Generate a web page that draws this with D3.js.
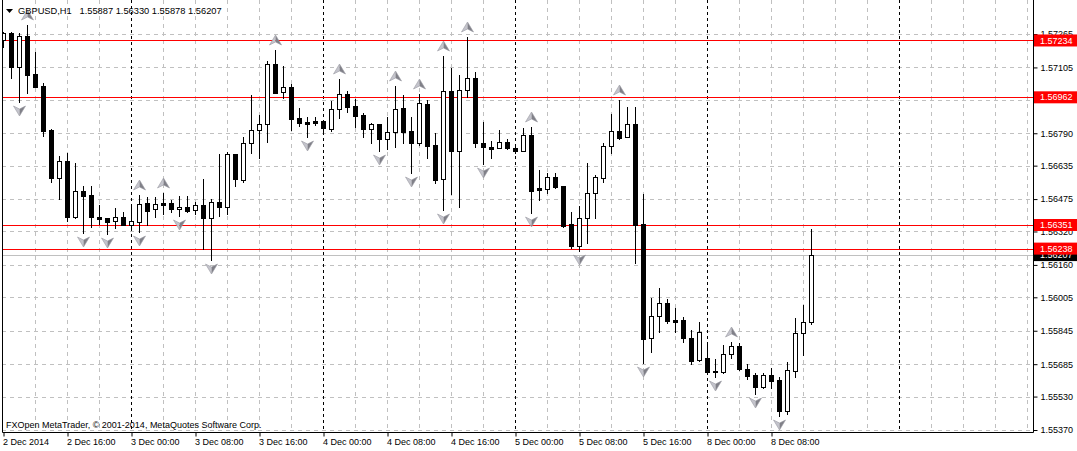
<!DOCTYPE html>
<html><head><meta charset="utf-8">
<script src="https://cdn.jsdelivr.net/npm/d3@7"></script>
<style>
body{margin:0;background:#fff;}
svg{display:block;}
text{font-family:"Liberation Sans",Arial,sans-serif;font-size:9px;fill:#000;}
</style>
</head><body><svg id="c" width="1077" height="451"></svg>
<script>
// ---------------- data ----------------
const symbol = "GBPUSD,H1";
const lastOHLC = [1.55887, 1.56330, 1.55878, 1.56207];
const opens = [1.57236,1.57270,1.57105,1.57255,1.57074,1.57016,1.56806,1.56577,1.56657,1.56388,
1.56514,1.56493,1.56388,1.56383,1.56368,1.56388,1.56353,1.56367,1.56455,1.56426,
1.56455,1.56455,1.56426,1.56437,1.56421,1.56447,1.56383,1.56460,1.56439,1.56691,
1.56566,1.56742,1.56804,1.56833,1.57121,1.56986,1.57010,1.56862,1.56844,1.56850,
1.56850,1.56812,1.56905,1.56976,1.56920,1.56877,1.56809,1.56833,1.56761,1.56795,
1.56910,1.56801,1.56745,1.56930,1.56734,1.56570,1.56992,1.56707,1.56996,1.57053,
1.56742,1.56726,1.56718,1.56747,1.56720,1.56704,1.56780,1.56526,1.56522,1.56579,
1.56538,1.56356,1.56252,1.56383,1.56503,1.56577,1.56729,1.56801,1.56771,1.56834,
1.56356,1.55809,1.55916,1.55976,1.55897,1.55897,1.55809,1.55705,1.55716,1.55652,
1.55649,1.55732,1.55772,1.55661,1.55633,1.55577,1.55633,1.55609,1.55462,1.55654,
1.55833,1.55887];
const highs = [1.57275,1.57275,1.57270,1.57308,1.57180,1.57032,1.56810,1.56681,1.56696,1.56649,
1.56539,1.56538,1.56447,1.56385,1.56432,1.56413,1.56442,1.56495,1.56484,1.56484,
1.56503,1.56471,1.56490,1.56490,1.56463,1.56571,1.56475,1.56689,1.56702,1.56691,
1.56771,1.56973,1.56877,1.57136,1.57188,1.57112,1.57024,1.56910,1.56866,1.56866,
1.56850,1.56944,1.57048,1.56992,1.56954,1.56886,1.56838,1.56833,1.56869,1.57016,
1.56973,1.56869,1.56978,1.56949,1.56790,1.57160,1.57101,1.57069,1.57249,1.57082,
1.56842,1.56754,1.56806,1.56763,1.56726,1.56814,1.56819,1.56614,1.56598,1.56598,
1.56538,1.56412,1.56442,1.56646,1.56590,1.56745,1.56882,1.56949,1.56917,1.56917,
1.56499,1.56000,1.56048,1.55997,1.55953,1.55909,1.55849,1.55888,1.55780,1.55708,
1.55777,1.55793,1.55788,1.55686,1.55644,1.55641,1.55665,1.55625,1.55697,1.55905,
1.55968,1.56330];
const lows = [1.57203,1.57054,1.56941,1.56984,1.57013,1.56778,1.56558,1.56474,1.56372,1.56383,
1.56314,1.56343,1.56356,1.56307,1.56338,1.56351,1.56338,1.56319,1.56351,1.56388,
1.56402,1.56415,1.56396,1.56412,1.56405,1.56236,1.56184,1.56396,1.56402,1.56539,
1.56558,1.56694,1.56673,1.56747,1.56981,1.56957,1.56806,1.56825,1.56774,1.56830,
1.56801,1.56802,1.56865,1.56893,1.56821,1.56774,1.56745,1.56707,1.56713,1.56726,
1.56745,1.56598,1.56734,1.56670,1.56553,1.56423,1.56499,1.56436,1.56965,1.56723,
1.56643,1.56670,1.56718,1.56715,1.56694,1.56704,1.56407,1.56471,1.56503,1.56527,
1.56343,1.56242,1.56227,1.56263,1.56386,1.56558,1.56697,1.56761,1.56771,1.56171,
1.55689,1.55745,1.55838,1.55884,1.55841,1.55793,1.55686,1.55702,1.55649,1.55622,
1.55644,1.55713,1.55657,1.55613,1.55542,1.55570,1.55573,1.55437,1.55447,1.55622,
1.55729,1.55878];
const closes = [1.57270,1.57105,1.57255,1.57069,1.57013,1.56802,1.56577,1.56657,1.56388,1.56514,
1.56491,1.56387,1.56381,1.56367,1.56388,1.56351,1.56369,1.56450,1.56419,1.56450,
1.56447,1.56426,1.56437,1.56419,1.56445,1.56383,1.56460,1.56439,1.56691,1.56570,
1.56742,1.56804,1.56833,1.57120,1.56984,1.57010,1.56860,1.56841,1.56836,1.56841,
1.56817,1.56905,1.56976,1.56917,1.56874,1.56809,1.56833,1.56761,1.56795,1.56905,
1.56798,1.56745,1.56933,1.56731,1.56566,1.56992,1.56707,1.56996,1.57053,1.56742,
1.56723,1.56713,1.56747,1.56721,1.56704,1.56780,1.56515,1.56519,1.56582,1.56534,
1.56348,1.56252,1.56383,1.56503,1.56579,1.56729,1.56801,1.56769,1.56834,1.56351,
1.55804,1.55916,1.55976,1.55893,1.55888,1.55809,1.55702,1.55838,1.55649,1.55649,
1.55732,1.55772,1.55661,1.55630,1.55577,1.55633,1.55606,1.55462,1.55657,1.55833,
1.55886,1.56207];
const timeLabels = ["2 Dec 2014","2 Dec 16:00","3 Dec 00:00","3 Dec 08:00","3 Dec 16:00","4 Dec 00:00","4 Dec 08:00","4 Dec 16:00","5 Dec 00:00","5 Dec 08:00","5 Dec 16:00","8 Dec 00:00","8 Dec 08:00"];
const timeLabelBars = [0,8,16,24,32,40,48,56,64,72,80,88,96];
const separatorBars = [16,40,64,88,112];
const priceTicks = [1.57265,1.57105,1.56950,1.56790,1.56635,1.56475,1.56320,1.56160,1.56005,1.55845,1.55685,1.55530,1.55370];
const hLines = [1.57234,1.56962,1.56351,1.56238];
const bid = 1.56207;
const upFractals = [3,17,20,34,42,49,52,55,58,66,77,91];
const downFractals = [2,10,13,17,22,26,38,47,51,55,60,66,72,80,89,94,97];
const copyright = "FXOpen MetaTrader, \u00a9 2001-2014, MetaQuotes Software Corp.";

// ---------------- layout ----------------
const svg = d3.select("#c");
const plotL = 2, plotR = 1033, plotB = 432;
const x = d3.scaleLinear().domain([0, 1]).range([3.5, 11.5]);
const y = d3.scaleLinear().domain([1.55370, 1.57265]).range([430, 34]);
const sy = v => Math.round(y(v));

svg.append("rect").attr("width",1077).attr("height",451).attr("fill","#fff");
svg.append("clipPath").attr("id","clip").append("rect")
  .attr("x",plotL+1).attr("y",0).attr("width",plotR-plotL-1).attr("height",plotB);
const g = svg.append("g").attr("clip-path","url(#clip)");

// grid
const gridBars = d3.range(4, 129, 4).filter(b => !separatorBars.includes(b));
g.selectAll(".vg").data(gridBars).join("line")
  .attr("x1",d=>x(d)).attr("x2",d=>x(d)).attr("y1",0).attr("y2",plotB)
  .attr("stroke","#c0c0c0").attr("stroke-dasharray","4,4");
g.selectAll(".hg").data(priceTicks).join("line")
  .attr("x1",plotL).attr("x2",plotR).attr("y1",d=>sy(d)+0.5).attr("y2",d=>sy(d)+0.5)
  .attr("stroke","#c0c0c0").attr("stroke-dasharray","4,4");
// period separators
g.selectAll(".sep").data(separatorBars).join("line")
  .attr("x1",d=>x(d)).attr("x2",d=>x(d)).attr("y1",0).attr("y2",plotB)
  .attr("stroke","#000").attr("stroke-dasharray","3,3");

// bid line
g.append("line").attr("x1",plotL).attr("x2",plotR).attr("y1",sy(bid)+0.5).attr("y2",sy(bid)+0.5).attr("stroke","#c0c0c0");
// horizontal red lines
g.selectAll(".hl").data(hLines).join("line")
  .attr("x1",plotL).attr("x2",plotR).attr("y1",d=>sy(d)+0.5).attr("y2",d=>sy(d)+0.5).attr("stroke","#ff0000");

// candles
const bars = opens.map((o,i)=>({i,o,h:highs[i],l:lows[i],c:closes[i]}));
g.selectAll(".wick").data(bars).join("line")
  .attr("x1",d=>x(d.i)).attr("x2",d=>x(d.i))
  .attr("y1",d=>sy(d.h)).attr("y2",d=>sy(d.l)+1)
  .attr("stroke","#000");
g.selectAll(".body").data(bars).join("rect")
  .each(function(d){
    const up = d.c > d.o;
    const t = sy(Math.max(d.o,d.c)), b = sy(Math.min(d.o,d.c));
    const s = d3.select(this);
    if (up) {
      s.attr("x",x(d.i)-2).attr("width",4).attr("y",t+0.5).attr("height",Math.max(b-t,1))
       .attr("fill","#fff").attr("stroke","#000");
    } else {
      s.attr("x",x(d.i)-2.5).attr("width",5).attr("y",t).attr("height",Math.max(b-t+1,1))
       .attr("fill","#000");
    }
  });

// fractal arrows
function arrow(sel, up){
  const k = up ? 1 : -1;
  sel.append("path").attr("d", `M0,0 L-6,${10*k} L0,${7*k} Z`).attr("fill","#c4c4cc");
  sel.append("path").attr("d", `M0,0 L6,${10*k} L0,${7*k} Z`).attr("fill","#808088");
  sel.append("path").attr("d", `M0,0 L-6,${10*k} L0,${7*k} L6,${10*k} Z`)
    .attr("fill","none").attr("stroke","#9a9aa2").attr("stroke-width",0.6);
}
g.selectAll(".fu").data(upFractals).join("g")
  .attr("transform",d=>`translate(${x(d)},${sy(highs[d])-15})`).each(function(){arrow(d3.select(this),true);});
g.selectAll(".fd").data(downFractals).join("g")
  .attr("transform",d=>`translate(${x(d)},${sy(lows[d])+14})`).each(function(){arrow(d3.select(this),false);});

// frame
svg.append("path").attr("d",`M${plotL+0.5},0 V${plotB+0.5} H${plotR+0.5} V0`).attr("fill","none").attr("stroke","#000");

// price axis
const yAxis = d3.axisRight(y).tickValues(priceTicks).tickSize(4).tickPadding(3).tickFormat(d3.format(".5f"));
const ya = svg.append("g").attr("transform",`translate(${plotR+0.5},0)`).call(yAxis);
ya.select(".domain").remove();
ya.attr("font-family",null).attr("font-size",null);
ya.selectAll("text").attr("fill","#000");

// time axis
const xAxis = d3.axisBottom(x).tickValues(timeLabelBars).tickSize(4).tickPadding(2).tickFormat((d,i)=>timeLabels[i]);
const xa = svg.append("g").attr("transform",`translate(0,${plotB+0.5})`).call(xAxis);
xa.select(".domain").remove();
xa.attr("font-family",null).attr("font-size",null);
xa.selectAll("text").attr("text-anchor","start").attr("x",-1).attr("fill","#000");

// line labels on price axis
const lab = svg.append("g");
const bidG = lab.append("g").attr("transform",`translate(${plotR+1},${y(bid)})`);
bidG.append("rect").attr("x",0).attr("y",-6).attr("width",45).attr("height",12).attr("fill","#000");
bidG.append("text").attr("x",6).attr("dy","0.34em").style("fill","#fff").text(d3.format(".5f")(bid));
hLines.forEach(v=>{
  const gg = lab.append("g").attr("transform",`translate(${plotR+1},${y(v)})`);
  gg.append("rect").attr("x",0).attr("y",-6).attr("width",45).attr("height",12).attr("fill","#ff0000");
  gg.append("text").attr("x",6).attr("dy","0.34em").style("fill","#fff").text(d3.format(".5f")(v));
});

// title
svg.append("path").attr("d","M6,9 H13 L9.5,13 Z").attr("fill","#000");
svg.append("text").attr("x",18).attr("y",14).style("white-space","pre").style("font-size","9.3px")
  .text(symbol + "   " + lastOHLC.map(d3.format(".5f")).join(" "));
// copyright
svg.append("text").attr("x",6).attr("y",428).text(copyright);
</script>
</body></html>
